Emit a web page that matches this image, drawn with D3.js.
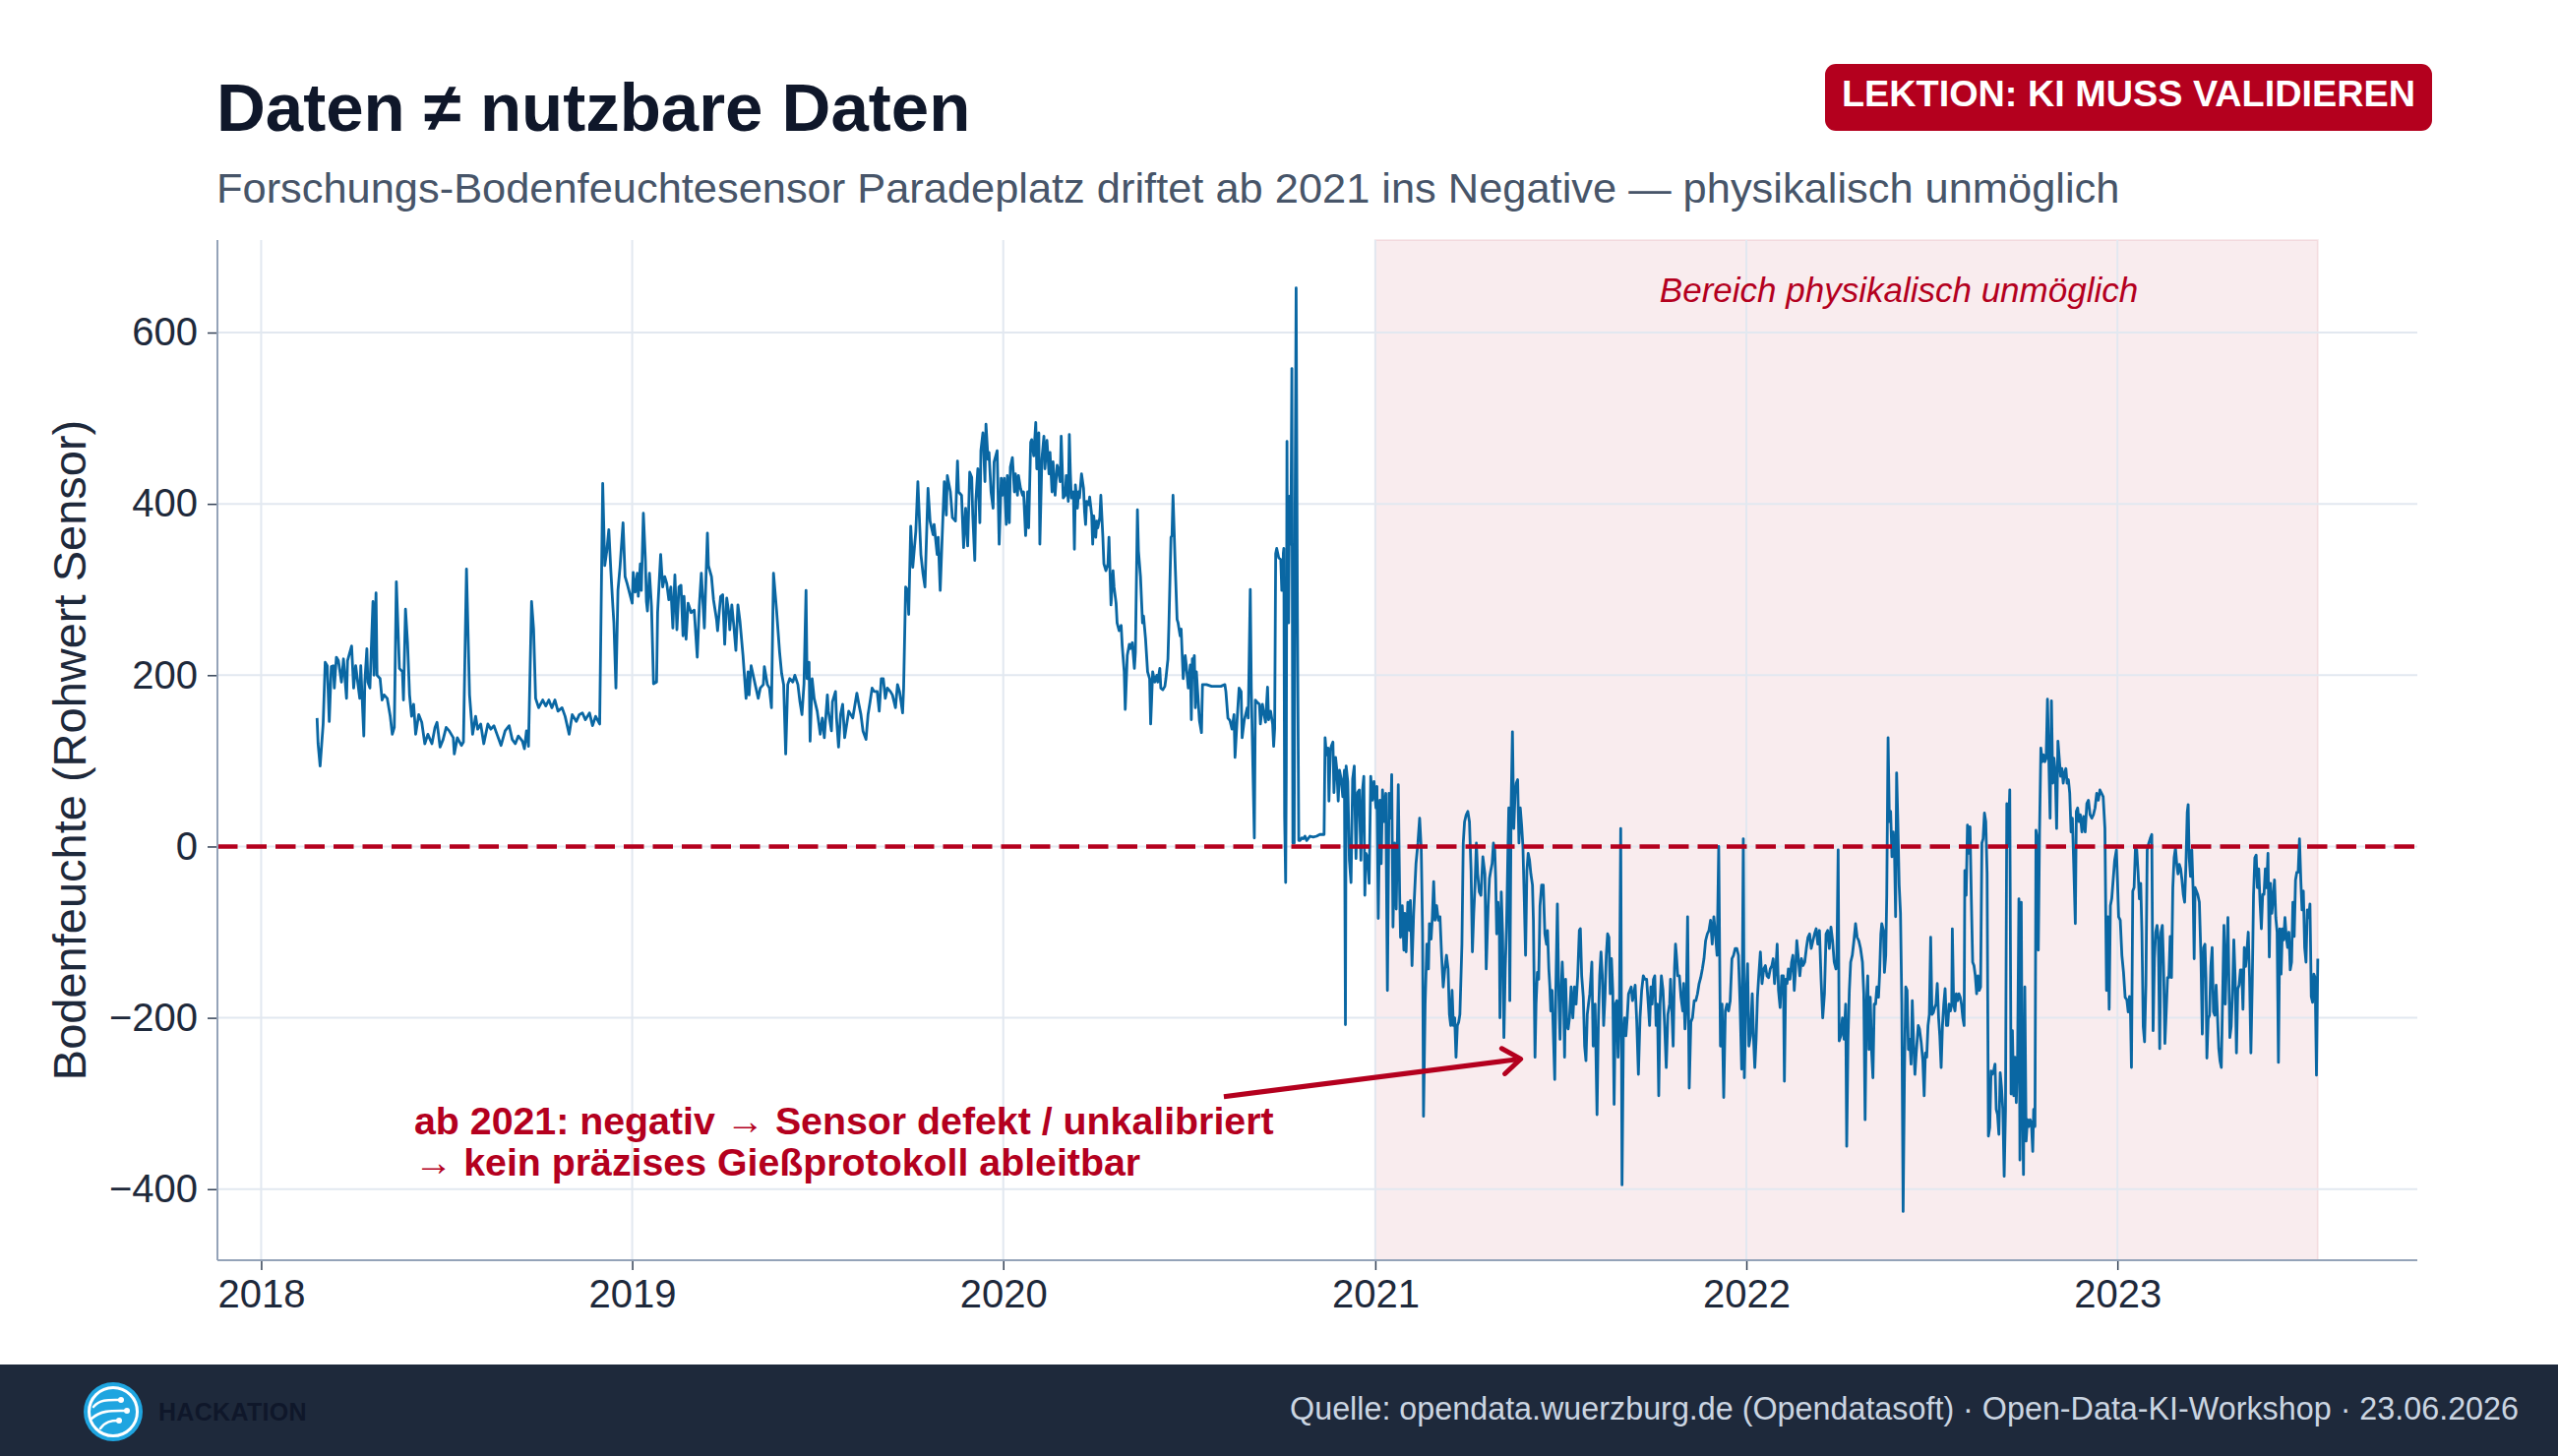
<!DOCTYPE html>
<html lang="de">
<head>
<meta charset="utf-8">
<title>Daten ≠ nutzbare Daten</title>
<script src="https://cdn.jsdelivr.net/npm/d3@7"></script>
<style>
  html, body { margin: 0; padding: 0; background: #fff; }
  svg { display: block; font-family: "Liberation Sans", Arial, sans-serif; }
</style>
</head>
<body>
<svg id="chart" width="2600" height="1480"></svg>
<script>
// Messwerte je Jahr: [Tag im Jahr, Rohwert Sensor]
const messung2018 = [
  [55,150],[56,120],[58,94],[61,143],[63,215],[65,211],[67,146],[69,210],[71,211],[72,185],[74,221],[76,217],[79,192],[81,219],[84,173],[85,217],[89,234],[91,185],[93,211],[97,173],[98,211],[101,129],[102,192],[104,231],[105,192],[107,185],[110,286],[111,200],[113,296],[114,200],[117,196],[119,171],[121,177],[124,173],[127,152],[129,131],[131,139],[133,309],[135,242],[136,208],[139,204],[140,171],[142,277],[144,238],[146,177],[148,152],[150,166],[152,131],[155,154],[158,145],[161,120],[164,131],[168,120],[171,139],[173,145],[176,116],[179,125],[182,139],[185,135],[189,127],[190,108],[193,127],[197,118],[199,122],[202,324],[205,177],[208,131],[211,152],[213,137],[216,143],[219,120],[223,143],[226,137],[229,141],[232,131],[236,118],[240,135],[244,141],[247,125],[250,120],[253,129],[257,123],[259,114],[261,135],[263,117],[266,286],[268,254],[270,173],[273,162],[277,171],[280,164],[283,171],[286,162],[289,171],[292,158],[296,162],[299,152],[303,131],[306,154],[310,146],[313,154],[316,156],[319,148],[323,156],[326,141],[329,152],[333,143],[336,424],[338,328],[340,345],[342,370],[344,322],[346,280],[347,261],[349,185],[351,299],[353,326],[356,378],[358,315],[360,307]
];
const messung2019 = [
  [0,284],[1,320],[3,297],[5,319],[6,292],[8,330],[9,299],[11,389],[13,334],[14,286],[15,275],[17,319],[19,280],[21,190],[24,192],[25,273],[28,341],[30,303],[32,315],[34,307],[36,288],[38,303],[40,255],[42,317],[44,253],[46,303],[48,305],[50,246],[51,292],[53,242],[55,284],[58,273],[61,276],[64,221],[66,280],[68,319],[71,255],[74,366],[75,328],[78,315],[80,288],[83,265],[84,252],[87,292],[89,294],[91,236],[93,290],[95,273],[96,253],[98,282],[100,257],[102,229],[104,282],[106,263],[109,223],[112,173],[114,204],[115,177],[117,211],[121,189],[124,173],[126,185],[129,189],[130,210],[133,189],[135,185],[137,162],[139,319],[142,276],[145,227],[147,202],[149,189],[151,108],[153,189],[155,196],[158,192],[160,200],[163,189],[165,169],[167,154],[169,190],[171,299],[172,196],[174,215],[175,123],[177,196],[179,173],[182,158],[185,131],[187,150],[189,127],[192,177],[193,158],[196,135],[197,169],[200,181],[201,150],[203,116],[205,154],[207,166],[209,127],[213,158],[215,154],[217,150],[221,179],[223,166],[225,154],[227,135],[230,125],[232,154],[234,169],[236,185],[238,181],[241,181],[243,158],[245,196],[247,196],[249,173],[251,185],[254,181],[256,177],[259,162],[261,189],[263,181],[266,156],[267,185],[269,303],[271,299],[272,271],[274,374],[276,326],[279,368],[281,426],[284,341],[286,319],[288,303],[291,418],[293,380],[296,364],[297,376],[300,341],[301,361],[303,299],[305,364],[307,426],[309,387],[310,433],[313,414],[315,384],[318,380],
  [320,450],[321,414],[324,410],[326,349],[328,395],[330,351],[332,437],[334,431],[335,387],[337,334],[338,403],[340,441],[342,378],[343,462],[345,483],[347,426],[348,493],[350,452],[351,460],[353,414],[355,395],[356,449],[359,462],[361,353],[363,430],[364,410]
];
const messung2020 = [
  [1,430],[3,376],[4,433],[6,378],[7,443],[9,454],[11,414],[12,435],[14,410],[15,433],[17,418],[19,410],[20,414],[22,363],[24,414],[25,372],[27,472],[28,475],[30,456],[32,495],[33,441],[35,483],[36,353],[38,452],[40,479],[41,441],[43,474],[45,435],[46,460],[48,414],[49,449],[51,410],[53,445],[54,441],[56,426],[57,479],[59,407],[61,410],[62,433],[64,403],[65,481],[66,437],[67,407],[69,414],[70,347],[71,422],[73,395],[74,414],[75,407],[77,435],[79,418],[80,391],[81,376],[82,403],[84,399],[85,408],[87,387],[88,353],[89,386],[91,361],[92,380],[93,372],[95,384],[96,410],[98,361],[99,330],[101,322],[103,330],[104,361],[106,282],[108,322],[109,303],[111,284],[112,261],[114,252],[116,258],[117,235],[119,204],[120,160],[122,223],[124,236],[125,231],[127,238],[129,208],[130,227],[132,393],[133,345],[135,315],[137,261],[138,269],[140,242],[142,204],[143,200],[144,196],[145,143],[146,173],[147,204],[149,192],[151,200],[152,192],[154,208],[155,185],[157,183],[159,187],[160,196],[162,219],[163,261],[165,361],[166,363],[167,410],[169,334],[171,265],[172,261],[174,246],[175,254],[177,196],[179,223],[180,212],[182,185],[184,212],[185,148],[186,219],[187,215],[188,223],[189,162],[190,204],[192,166],[193,147],[195,133],[196,189],[200,189],[205,187],[209,187],[214,187],[218,189],[219,181],[221,150],[223,147],[225,137],[227,154],[228,104],[230,147],[232,185],[234,181],[235,127],[237,147],[240,162],[241,150],[243,300],[244,185],
  [247,10],[248,171],[250,168],[252,166],[253,143],[255,166],[256,158],[258,145],[260,186],[261,148],[263,158],[265,143],[266,117],[267,138],[268,342],[269,348],[271,337],[273,335],[274,299],[275,302],[275.5,342],[276,348],[276.8,35],[277.8,-42],[278.4,86],[279.1,473],[279.7,261],[280.7,261],[281.6,409],[282.3,353],[282.9,355],[283.9,558],[284.9,4],[286.2,4],[287.1,394],[288.1,652],[289.4,266],[290.7,7],[292,7],[293.6,10],[295.2,9],[296.8,12],[298.5,7],[301.7,12],[304.9,11],[308.2,12],[311.4,14],[315.6,14],[316.6,127],[317.9,107],[319.5,115],[320.4,53],[321.7,112],[322.7,117],[324.3,122],[325.3,63],[326.9,104],[328.2,89],[329.5,53],[330.8,89],[332.4,79],[334,58],[335.6,89],[336.6,-208],[337.3,94],[338.9,76],[340.5,-16],[342.1,-42],[343.7,79],[345.3,94],[347,-14],[348.6,63],
  [350.2,66],[351.8,-16],[353.4,66],[354.7,82],[355.7,-57],[356.7,-8],[358.3,-12],[359.9,-43],[361.5,82],[363.1,54],[364.7,76]
];
const messung2021 = [
  [0.6,45],[1.6,70],[2.9,-84],[4.5,54],[5.8,-20],[7.1,66],[8.7,29],[10.3,62],[11.9,-168],[13.5,62],[15.2,33],[16.1,84],[17.4,-94],[19,4],[20.6,-73],[22.6,72],[23.9,-53],[24.8,-106],[26.5,-69],[28.1,-121],[29,-78],[30.3,-123],[32,-65],[33.6,-98],[34.5,-63],[36.1,-139],[37.7,-78],[40,-20],[41.9,4],[43.6,33],[45.2,-4],[46.5,-102],[47.4,-315],[49,-184],[50.7,-114],[52.3,-143],[53.2,-90],[54.9,-108],[56.1,-82],[57.4,-41],[58.7,-86],[60.3,-69],[62,-86],[63.6,-82],[65.2,-127],[66.8,-164],[68.4,-143],[70,-127],[71.6,-143],[72.9,-196],[74.2,-209],[75.5,-168],[76.8,-209],[78.1,-200],[79.4,-246],[80.7,-209],[82,-205],[83.2,-196],[85.2,-114],[86.5,4],[87.8,29],[89.4,37],[91,41],[92.6,29],[94.2,-28],[95.5,-123],[96.8,-78],[98.1,-45],[99.4,4],[100.7,-32],[102.3,-53],[103.9,-57],[105.8,-12],[107.8,-32],[109.1,-143],[111,-69],[112.3,-37],[113.6,-28],[114.9,-20],[116.2,4],[117.5,-4],[118.4,-37],[119.4,-102],[120.7,-65],[122,-94],[122.6,-200],[123.9,-53],[125.2,-102],[126.5,-223],[127.8,-143],[129.1,-94],[130.4,-8],[131.3,45],[132.3,-180],[133.6,48],[134.9,134],[136.2,21],[137.5,62],[138.7,74],[140,78],[141.3,4],[142.6,45],[143.9,25],[145.2,0],[146.5,-61],[147.8,-127],[149.1,-28],[150.4,-8],[151.7,-16],[153,-32],[154.6,-45],[155.5,-86],[157.1,-246],[158.1,-184],[159.4,-147],[160.7,-155],[162,-69],[163.6,-45],[165.2,-45],[166.8,-102],[168.4,-114],[169.4,-98],[170.7,-143],[171.7,-164],[172.6,-192],[173.9,-168],[174.9,-209],[176.5,-272],[177.5,-172],[179.1,-67],[180.4,-168],[181.7,-225],[182.6,-176],[183.9,-135],[185.2,-176],[186.2,-246],[187.2,-155],[188.4,-209],[189.7,-213],[191,-200],[192.6,-164],[194.3,-200],[195.9,-164],[197.5,-184],[199.1,-151],[200.7,-98],[201.7,-96],[203,-151],[204.6,-176],[205.9,-233],[207.2,-250],[208.5,-196],[209.7,-184],[211,-172],[213,-135],[214.3,-233],[216.2,-184],[218.1,-313],[219.4,-205],[220.7,-151],[222,-123],[223.3,-151],[224.6,-209],[225.9,-176],[227.2,-127],[228.5,-102],[229.8,-106],[231.1,-172],[232.3,-131],[233.6,-168],[234.9,-301],[236.2,-184],[237.5,-180],[238.8,-246],[240.1,-196],[241.4,21],[242.7,-395],[244,-221],[245.2,-200],[246.5,-221],[247.8,-200],[249.1,-172],[250.4,-168],[251.7,-164],[253,-180],[254.3,-172],[255.6,-162],[257.2,-205],[258.8,-266],[260.4,-200],[262,-168],[263.6,-151],[265.2,-155],[266.9,-155],[268.5,-184],[269.8,-209],[271.1,-164],[272.3,-184],[273.6,-155],[274.9,-151],[276.2,-209],[277.5,-184],[278.8,-291],[280.1,-184],[281.4,-151],[283,-168],[284.6,-209],[286.2,-258],[287.8,-196],[289.5,-184],[290.4,-155],[291.7,-192],[293,-233],[294.3,-143],[295.3,-114],[296.2,-127],[297.5,-151],[299.1,-151],[300.7,-176],[302.4,-192],[303.3,-160],[304.6,-213],[305.9,-184],[307.2,-82],[308.8,-282],[310.4,-205],[312,-200],[313.7,-180],[315.3,-180],[316.9,-172],[318.5,-160],[320.1,-153],[321.7,-143],[323.3,-131],[324.9,-110],[326.6,-102],[328.2,-98],[329.8,-86],[331.4,-114],[333,-82],[334.6,-102],[336.2,-127],[337.8,0],[339.5,-233],[341.1,-184],[342.7,-293],[344.3,-192],[345.9,-184],[347.5,-192],[349.1,-180],[350.8,-131],[352.4,-127],[354,-119],[355.6,-119],[357.2,-127],[358.8,-184],[360.4,-260],[362,9],[363,-270],[364.6,-180]
];
const messung2022 = [
  [1.2,-137],[2.5,-233],[4.1,-221],[5.8,-172],[7.1,-225],[8.3,-258],[9.6,-225],[10.9,-176],[12.2,-151],[13.8,-123],[15.4,-160],[17.1,-143],[18.7,-139],[20.3,-151],[21.9,-153],[23.5,-143],[25.1,-139],[26.4,-131],[27.7,-160],[29,-143],[30.3,-114],[31.6,-168],[33.2,-188],[34.8,-151],[36.4,-151],[37.4,-274],[38.7,-155],[40,-160],[41.3,-143],[42.9,-155],[44.5,-135],[45.8,-127],[47.1,-168],[48.4,-143],[49.6,-110],[50.9,-127],[52.6,-151],[54.2,-131],[55.8,-139],[57.4,-135],[59,-119],[60.6,-106],[62.2,-102],[63.8,-119],[65.5,-110],[67.1,-102],[68.7,-96],[70.3,-114],[71.9,-98],[73.5,-155],[75.1,-200],[76.8,-172],[78.4,-102],[80,-98],[81.6,-119],[83.2,-94],[84.8,-110],[86.4,-135],[88.1,-143],[89,-135],[90.3,-4],[91.3,-227],[92.9,-221],[94.5,-200],[96.1,-225],[97.7,-184],[98.7,-350],[100,-225],[101.3,-168],[102.6,-135],[104.2,-127],[105.8,-110],[107.4,-90],[109,-106],[110.6,-110],[112.3,-119],[114.2,-135],[115.5,-172],[116.8,-319],[118.1,-184],[119.4,-151],[120.6,-237],[121.9,-176],[123.2,-239],[124.5,-270],[125.8,-184],[127.1,-184],[128.4,-164],[130,-176],[131,-151],[132.3,-102],[133.2,-90],[134.8,-98],[135.8,-147],[137.1,-127],[138.1,-57],[139.4,127],[140.7,29],[141.9,41],[143.2,-12],[144.5,17],[145.8,-12],[146.8,-82],[147.8,86],[149,29],[150.3,-45],[151.6,-78],[152.9,-184],[154.2,-426],[155.5,-266],[156.8,-164],[158.1,-168],[159.4,-237],[160.7,-225],[162,-254],[163.2,-180],[164.5,-229],[165.8,-266],[167.1,-241],[169.1,-209],[170.3,-213],[172,-229],[173.6,-250],[174.9,-291],[176.1,-241],[177.4,-246],[178.7,-209],[180,-196],[181.3,-106],[182.6,-196],[183.9,-194],[185.2,-188],[186.5,-184],[187.8,-160],[189.1,-200],[190.3,-221],[191.6,-258],[192.9,-209],[194.2,-184],[195.5,-166],[196.8,-209],[198.1,-209],[199.4,-184],[200.7,-192],[202,-184],[202.6,-96],[203.9,-184],[205.2,-192],[206.5,-172],[207.8,-180],[209.1,-172],[210.4,-176],[211.6,-184],[212.9,-200],[214.2,-209],[214.9,-28],[216.2,-57],[217.5,25],[218.7,-8],[220,23],[221.3,-61],[222.6,-135],[223.9,-139],[225.2,-151],[226.5,-172],[227.8,-151],[229.1,-168],[230.4,-164],[231.7,4],[232.9,9],[234.2,39],[235.5,29],[236.8,-32],[238.1,-338],[239.4,-328],[240.7,-262],[242,-266],[243.3,-262],[244.6,-254],[245.8,-307],[247.1,-313],[248.4,-336],[249.7,-264],[251,-282],[252.3,-307],[253.6,-385],[254.9,-307],[256.2,50],[257.5,0],[259.1,66],[260.4,-289],[261.7,-215],[263,-291],[264.2,-246],[265.5,-299],[266.8,-246],[268.1,-61],[269.1,-366],[270.4,-65],[271.3,-274],[272.6,-383],[273.9,-164],[275.2,-344],[276.5,-319],[277.8,-327],[279.1,-319],[280.4,-323],[281.7,-356],[282.6,-307],[283.9,-327],[284.9,19],[286.2,9],[287.2,-121],[288.4,17],[289.7,115],[291,99],[292.3,107],[293.6,99],[294.9,103],[296.2,172],[297.5,103],[298.8,33],[300.1,170],[301.4,74],[302.6,103],[303.9,86],[305.2,21],[306.5,123],[307.8,103],[309.1,82],[310.4,91],[311.7,74],[313,86],[314.3,91],[315.5,74],[316.8,78],[318.1,62],[319.4,17],[320.7,33],[322,-20],[323.6,-90],[324.6,41],[325.9,45],[327.2,29],[328.5,37],[330.1,17],[331.7,35],[333.3,17],[334.9,50],[336.5,54],[338.1,37],[339.8,33],[341.4,37],[343,45],[344.6,62],[346.2,54],[347.8,66],[349.4,62],[351,58],[352.7,21],[354.3,-168],[355.6,-82],[356.9,-190],[358.1,-69],[359.4,-61],[360.7,-41],[362.3,-16],[364,-4]
];
const messung2023 = [
  [0,-37],[1.2,-82],[2.8,-86],[4.4,-127],[6,-147],[7.6,-176],[9.3,-179],[10.6,-193],[11.9,-175],[12.9,-197],[13.8,-258],[15.1,-52],[16.4,-48],[17.7,-2],[19,-4],[20.3,-30],[21.6,-61],[22.9,-43],[24.1,-100],[25.4,-210],[26.7,-228],[28,-162],[29.3,-4],[30.6,3],[32.2,9],[33.8,14],[35.1,-215],[36.4,-131],[37.7,-100],[39,-92],[40.3,-109],[41.6,-236],[42.9,-100],[44.2,-92],[45.4,-140],[46.7,-230],[48,-193],[49.3,-153],[50.6,-153],[51.9,-105],[53.2,-153],[54.5,-48],[55.8,-13],[57.1,-2],[58.4,-21],[59.6,-32],[60.9,-21],[62.2,-26],[63.5,-39],[64.8,-56],[66.1,-65],[67.4,-21],[68.7,40],[69.6,49],[70.6,-13],[71.9,-35],[73.2,-4],[74.5,-52],[75.5,-131],[76.4,-48],[77.7,-52],[79,-56],[80.6,-65],[82.2,-131],[83.5,-219],[84.8,-118],[86.1,-114],[87.1,-153],[88,-247],[89.3,-201],[90.6,-197],[91.9,-140],[93.2,-118],[94.5,-193],[95.8,-197],[97.1,-162],[98.4,-197],[99.7,-236],[100.9,-250],[102.2,-258],[103.5,-175],[104.8,-92],[106.1,-184],[107.4,-131],[108.7,-83],[109.7,-153],[110.6,-223],[111.9,-210],[113.2,-171],[114.5,-109],[115.8,-153],[117.1,-241],[118.4,-166],[119.7,-162],[121,-144],[122.3,-144],[123.5,-190],[124.8,-118],[126.1,-140],[127.4,-122],[128.7,-100],[130,-153],[131.3,-241],[132.6,-162],[133.9,-56],[135.2,-13],[136.5,-10],[137.7,-48],[139,-26],[140.3,-65],[141.6,-96],[142.9,-56],[144.2,-56],[145.5,-26],[146.8,-48],[148.1,-8],[149.4,-129],[150.6,-43],[151.9,-78],[153.2,-61],[154.5,-39],[155.8,-83],[157.1,-100],[158.4,-252],[159.7,-96],[161,-149],[162.3,-96],[163.6,-109],[164.8,-83],[166.1,-105],[167.4,-118],[168.7,-100],[170,-144],[171.3,-135],[172.6,-65],[173.9,-105],[175.2,-39],[176.5,-30],[177.8,-30],[179.1,9],[180.4,-39],[181.6,-74],[182.9,-52],[184.2,-118],[185.5,-135],[186.8,-74],[188.1,-83],[189.4,-67],[190.7,-175],[192,-182],[193.2,-149],[194.5,-153],[195.8,-267],[197.1,-131]
];

const jahre = [2018, 2019, 2020, 2021, 2022, 2023];
const yTicks = [-400, -200, 0, 200, 400, 600];
const zeitraum = [new Date(Date.UTC(2017, 10, 19)), new Date(Date.UTC(2023, 9, 23))];
const wertebereich = [-483, 708];
const beginnDefekt = new Date(Date.UTC(2021, 0, 1));

const titel = "Daten ≠ nutzbare Daten";
const untertitel = "Forschungs-Bodenfeuchtesensor Paradeplatz driftet ab 2021 ins Negative — physikalisch unmöglich";
const badgeText = "LEKTION: KI MUSS VALIDIEREN";
const yLabel = "Bodenfeuchte (Rohwert Sensor)";
const bereichText = "Bereich physikalisch unmöglich";
const hinweis = ["ab 2021: negativ → Sensor defekt / unkalibriert", "→ kein präzises Gießprotokoll ableitbar"];
const quelle = "Quelle: opendata.wuerzburg.de (Opendatasoft) · Open-Data-KI-Workshop · 23.06.2026";

const ROT = "#b4001e";
const BLAU = "#0a67a3";

// Zeitreihe zusammensetzen
const reihen = { 2018: messung2018, 2019: messung2019, 2020: messung2020, 2021: messung2021, 2022: messung2022, 2023: messung2023 };
const daten = [];
jahre.forEach(j => reihen[j].forEach(([tag, wert]) => {
    daten.push({ datum: new Date(Date.UTC(j, 0, 1) + tag * 864e5), wert });
}));
const endeDaten = daten[daten.length - 1].datum;

const plot = { left: 221, right: 2457, top: 244, bottom: 1281 };

const svg = d3.select("#chart");

const x = d3.scaleUtc().domain(zeitraum).range([plot.left, plot.right]);
const y = d3.scaleLinear().domain(wertebereich).range([plot.bottom, plot.top]);

// Bereich ab 2021
svg.append("rect")
    .attr("x", x(beginnDefekt))
    .attr("y", plot.top)
    .attr("width", x(endeDaten) - x(beginnDefekt))
    .attr("height", plot.bottom - plot.top)
    .attr("fill", ROT)
    .attr("fill-opacity", 0.075)
    .attr("stroke", ROT)
    .attr("stroke-opacity", 0.08)
    .attr("stroke-width", 2);

// Gitter
const jahresTicks = jahre.map(j => new Date(Date.UTC(j, 0, 1)));
svg.append("g").selectAll("line")
    .data(jahresTicks)
    .join("line")
    .attr("x1", d => x(d)).attr("x2", d => x(d))
    .attr("y1", plot.top).attr("y2", plot.bottom)
    .attr("stroke", "#e2e8f0").attr("stroke-width", 2);

svg.append("g").selectAll("line")
    .data(yTicks)
    .join("line")
    .attr("x1", plot.left).attr("x2", plot.right)
    .attr("y1", d => y(d)).attr("y2", d => y(d))
    .attr("stroke", "#e2e8f0").attr("stroke-width", 2);

// Messreihe
const linie = d3.line().x(d => x(d.datum)).y(d => y(d.wert));
svg.append("path")
    .datum(daten)
    .attr("d", linie)
    .attr("fill", "none")
    .attr("stroke", BLAU)
    .attr("stroke-width", 2.8)
    .attr("stroke-linejoin", "round");

// Nulllinie
svg.append("line")
    .attr("x1", plot.left).attr("x2", plot.right)
    .attr("y1", y(0)).attr("y2", y(0))
    .attr("stroke", ROT)
    .attr("stroke-width", 4.5)
    .attr("stroke-dasharray", "20.5,9");

// Achsen
const xAxis = svg.append("g")
    .attr("transform", `translate(0,${plot.bottom})`)
    .call(d3.axisBottom(x).tickValues(jahresTicks).tickFormat(d3.utcFormat("%Y")).tickSize(10).tickPadding(10));

const yAxis = svg.append("g")
    .attr("transform", `translate(${plot.left},0)`)
    .call(d3.axisLeft(y).tickValues(yTicks).tickSize(10).tickPadding(10));

[xAxis, yAxis].forEach(a => {
    a.select(".domain").remove();
    a.selectAll(".tick line").attr("stroke", "#334155").attr("stroke-width", 1.5);
    a.selectAll(".tick text").attr("fill", "#1e293b").style("font-size", "40px").style("font-family", "'Liberation Sans', Arial, sans-serif");
});

svg.append("line")
    .attr("x1", plot.left).attr("x2", plot.right)
    .attr("y1", plot.bottom).attr("y2", plot.bottom)
    .attr("stroke", "#94a3b8").attr("stroke-width", 2);
svg.append("line")
    .attr("x1", plot.left).attr("x2", plot.left)
    .attr("y1", plot.top).attr("y2", plot.bottom)
    .attr("stroke", "#94a3b8").attr("stroke-width", 2);

svg.append("text")
    .attr("transform", `translate(71,${(plot.top + plot.bottom) / 2}) rotate(-90)`)
    .attr("text-anchor", "middle")
    .attr("dy", "0.35em")
    .attr("fill", "#1e293b")
    .style("font-size", "47px")
    .text(yLabel);

// Beschriftungen im Plot
svg.append("text")
    .attr("x", 1930).attr("y", 307)
    .attr("text-anchor", "middle")
    .attr("fill", ROT)
    .style("font-size", "35px")
    .style("font-style", "italic")
    .text(bereichText);

const pfeilStart = [x(new Date(Date.UTC(2020, 7, 5))), y(-292)];
const pfeilEnde = [x(new Date(Date.UTC(2021, 4, 24))), y(-248)];
svg.append("line")
    .attr("x1", pfeilStart[0]).attr("y1", pfeilStart[1])
    .attr("x2", pfeilEnde[0] - 4).attr("y2", pfeilEnde[1] + 0.5)
    .attr("stroke", ROT).attr("stroke-width", 5);
const winkel = Math.atan2(pfeilEnde[1] - pfeilStart[1], pfeilEnde[0] - pfeilStart[0]);
const spitze = [winkel + Math.PI * 0.8, winkel - Math.PI * 0.8].map(w => [pfeilEnde[0] + 22 * Math.cos(w), pfeilEnde[1] + 22 * Math.sin(w)]);
svg.append("path")
    .attr("d", `M${spitze[0]}L${pfeilEnde}L${spitze[1]}`)
    .attr("fill", "none")
    .attr("stroke", ROT).attr("stroke-width", 5)
    .attr("stroke-linecap", "round").attr("stroke-linejoin", "round");

svg.append("g").selectAll("text")
    .data(hinweis)
    .join("text")
    .attr("x", 421)
    .attr("y", (d, i) => 1153 + i * 42)
    .attr("fill", ROT)
    .style("font-size", "39.3px")
    .style("font-weight", "bold")
    .text(d => d);

// Kopf
svg.append("text")
    .attr("x", 220).attr("y", 133)
    .attr("fill", "#0f172a")
    .style("font-size", "69px")
    .style("font-weight", "bold")
    .text(titel);

svg.append("text")
    .attr("x", 220).attr("y", 206)
    .attr("fill", "#475569")
    .style("font-size", "43.4px")
    .text(untertitel);

svg.append("rect")
    .attr("x", 1855).attr("y", 65)
    .attr("width", 617).attr("height", 68)
    .attr("rx", 11)
    .attr("fill", ROT);
svg.append("text")
    .attr("x", 1855 + 617 / 2).attr("y", 108)
    .attr("text-anchor", "middle")
    .attr("fill", "#fff")
    .style("font-size", "37.8px")
    .style("font-weight", "bold")
    .text(badgeText);

// Fußzeile
svg.append("rect")
    .attr("x", 0).attr("y", 1387)
    .attr("width", 2600).attr("height", 93)
    .attr("fill", "#1e293b");

svg.append("text")
    .attr("x", 2560).attr("y", 1443)
    .attr("text-anchor", "end")
    .attr("fill", "#cbd5e1")
    .style("font-size", "32.3px")
    .text(quelle);

const logo = svg.append("g").attr("transform", "translate(115,1435)");
logo.append("circle").attr("r", 30).attr("fill", "#1fa5e0");
logo.append("circle").attr("r", 24.5).attr("fill", "none").attr("stroke", "#fff").attr("stroke-width", 3);
const spuren = [
    { d: "M-20,-5 C-13,-13 -4,-12 7,-12", punkt: [8, -12] },
    { d: "M-22,7 C-12,-2 0,-1 13,-1", punkt: [14, -1] },
    { d: "M-13,17 C-8,10 -2,9 5,9", punkt: [6, 9] }
];
spuren.forEach(s => {
    logo.append("path").attr("d", s.d).attr("fill", "none").attr("stroke", "#fff").attr("stroke-width", 2.6).attr("stroke-linecap", "round");
    logo.append("circle").attr("cx", s.punkt[0]).attr("cy", s.punkt[1]).attr("r", 3).attr("fill", "#fff");
});
svg.append("text")
    .attr("x", 161).attr("y", 1444)
    .attr("fill", "#0f172a")
    .style("font-size", "25px")
    .style("font-weight", "bold")
    .style("letter-spacing", "0.3px")
    .text("HACKATION");
</script>
</body>
</html>
